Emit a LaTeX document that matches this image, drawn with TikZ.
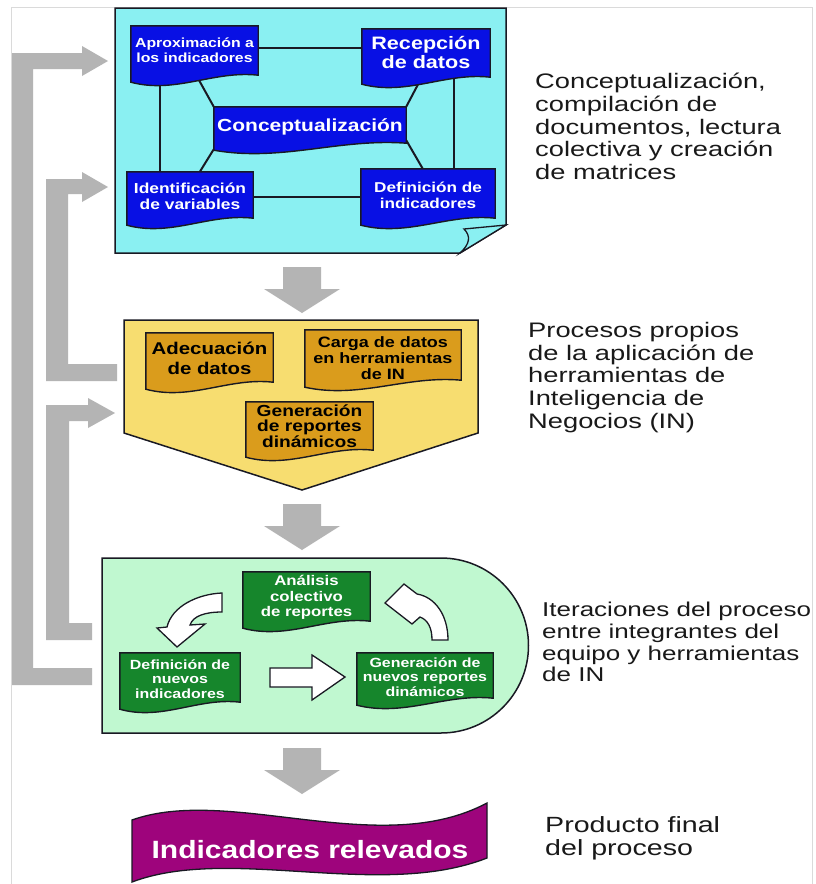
\documentclass[tikz,border=0pt]{standalone}
\usepackage{fontspec}
\setmainfont{Liberation Sans}
\newfontfamily\sidefont[FakeStretch=1.3]{Liberation Sans}
\newfontfamily\boxfont[FakeStretch=1.2]{Liberation Sans}
\usetikzlibrary{calc}
\pgfdeclarelayer{back}
\pgfdeclarelayer{lines}
\pgfdeclarelayer{mid}
\pgfsetlayers{back,lines,mid,main}

\definecolor{cyanp}{RGB}{138,240,242}
\definecolor{blueb}{RGB}{8,16,228}
\definecolor{yellp}{RGB}{247,221,112}
\definecolor{orgb}{RGB}{218,156,28}
\definecolor{grnp}{RGB}{192,248,208}
\definecolor{grnb}{RGB}{22,134,44}
\definecolor{purp}{RGB}{158,4,124}
\definecolor{agray}{RGB}{180,180,180}
\definecolor{fgray}{RGB}{218,218,218}
\definecolor{edge}{RGB}{25,25,35}

% document shape with wavy bottom drawn behind node #1
\newcommand\wavebox[3]{%
  \begin{pgfonlayer}{mid}
  \filldraw[fill=#2, draw=edge, line width=1.4pt]
    (#1.north west) -- (#1.north east) -- ($(#1.south east)+(0,{#3-7})$)
    .. controls ($(#1.south west)!0.65!(#1.south east)+(0,{#3-12})$)
       and ($(#1.south west)!0.35!(#1.south east)+(0,{#3+12})$) ..
    ($(#1.south west)+(0,#3)$) -- cycle;
  \end{pgfonlayer}}

\newcommand\grayarrow[2]{%
  \fill[agray] ({#1-19},#2) -- ({#1+19},#2) -- ({#1+19},{#2+22}) -- ({#1+38},{#2+22})
    -- (#1,{#2+46}) -- ({#1-38},{#2+22}) -- ({#1-19},{#2+22}) -- cycle;}

\begin{document}
\begin{tikzpicture}[x=1pt,y=-1pt,
  doc/.style={rectangle, inner sep=0pt, align=center},
  fs/.style 2 args={font=\boxfont\bfseries\fontsize{#1}{#2}\selectfont},
  rt/.style 2 args={font=\sidefont\fontsize{#1}{#2}\selectfont, anchor=north west, align=left, inner sep=0pt, text=black!90},
  panel/.style={draw=edge, line width=1.5pt},
  conn/.style={draw=edge, line width=2pt},
  oarrow/.style={fill=white, draw=edge, line width=1.3pt, line join=miter}]

\useasboundingbox (0,0) rectangle (816,884);

\begin{pgfonlayer}{back}
  \fill[white] (0,0) rectangle (816,884);
  \draw[fgray, line width=1pt] (11,884) -- (11,7) -- (812,7) -- (812,884);
  % panels
  \filldraw[panel, fill=cyanp] (115,8) -- (506,8) -- (506,225) -- (460,253) -- (115,253) -- cycle;
  \filldraw[panel, fill=cyanp, line width=1.3pt] (506,225) -- (464,229) .. controls (471,236) and (470,244) .. (460,253) -- cycle;
  \filldraw[panel, fill=yellp] (124,320) -- (478,320) -- (478,433) -- (302,490) -- (124,433) -- cycle;
  \filldraw[panel, fill=grnp] (102,558) -- (441,558) arc[start angle=-90, end angle=90, radius=87.5] -- (102,733) -- cycle;
  % down arrows
  \grayarrow{302}{267}
  \grayarrow{302}{504}
  \grayarrow{302}{748}
  % feedback arrows
  \fill[agray] (12,685) -- (92,685) -- (92,668) -- (33,668) -- (33,69) -- (82,69) -- (82,76) -- (108,61) -- (82,46) -- (82,53) -- (12,53) -- cycle;
  \fill[agray] (46,381) -- (117,381) -- (117,364) -- (68,364) -- (68,194) -- (82,194) -- (82,202) -- (108,187) -- (82,172) -- (82,179) -- (46,179) -- cycle;
  \fill[agray] (46,640) -- (92,640) -- (92,623) -- (69,623) -- (69,421) -- (88,421) -- (88,428) -- (115,413) -- (88,398) -- (88,405) -- (46,405) -- cycle;
  % final banner
  \filldraw[draw=edge, line width=1.3pt, fill=purp] (132,820) .. controls (230,785) and (380,860) .. (487,803) -- (487,858) .. controls (380,900) and (230,845) .. (132,882) -- cycle;
\end{pgfonlayer}

% ---- top panel boxes
\node[doc, minimum width=127, minimum height=48, fs={13.2}{15}, text=white] (apx) at (194.5,50) {Aproximación a\\los indicadores};
\wavebox{apx}{blueb}{8}
\node[doc, minimum width=128, minimum height=46, fs={18}{19}, text=white] (rec) at (426,52) {Recepción\\de datos};
\wavebox{rec}{blueb}{9}
\node[doc, minimum width=192, minimum height=40, fs={17.5}{19}, text=white] (con) at (310,127) {Conceptualización};
\wavebox{con}{blueb}{3}
\node[doc, minimum width=126, minimum height=48, fs={14.5}{16}, text=white] (idv) at (190,196) {Identificación\\de variables};
\wavebox{idv}{blueb}{5}
\node[doc, minimum width=134, minimum height=52, fs={14.3}{16}, text=white] (dfi) at (428,195) {Definición de\\indicadores};
\wavebox{dfi}{blueb}{4}

\begin{pgfonlayer}{lines}
  \draw[conn] ($(apx.center)+(0,-2)$) -- ($(rec.center |- apx.center)+(0,-2)$);
  \draw[conn] ($(idv.center)+(0,1)$) -- ($(dfi.center |- idv.center)+(0,1)$);
  \draw[conn] ($(apx.center)+(-34.5,0)$) -- ($(apx.center |- idv.center)+(-34.5,0)$);
  \draw[conn] ($(rec.center)+(28,0)$) -- ($(rec.center |- dfi.center)+(28,0)$);
  \draw[conn] (con.north west) -- ($(apx.south west)+(66,2)$);
  \draw[conn] (con.north east) -- ($(rec.south west)+(60,2)$);
  \draw[conn] ($(con.south west)+(0,2)$) -- ($(idv.north west)+(73,0)$);
  \draw[conn] ($(con.south east)+(0,-7)$) -- ($(dfi.north west)+(62,0)$);
\end{pgfonlayer}

% ---- middle panel boxes
\node[doc, minimum width=127, minimum height=51, fs={17}{20}, text=black] (ade) at (209.5,358.5) {Adecuación\\de datos};
\wavebox{ade}{orgb}{5}
\node[doc, minimum width=156, minimum height=56, fs={15}{16}, text=black] (car) at (383,358) {Carga de datos\\en herramientas\\de IN};
\wavebox{car}{orgb}{1}
\node[doc, minimum width=127, minimum height=48, fs={16}{14.8}, text=black] (gen) at (309.5,426) {Generación\\de reportes\\dinámicos};
\wavebox{gen}{orgb}{7}

% ---- bottom panel boxes
\node[doc, minimum width=127, minimum height=51, fs={14}{15.5}, text=white] (ana) at (306.5,597.5) {Análisis\\colectivo\\de reportes};
\wavebox{ana}{grnb}{5}
\node[doc, minimum width=120, minimum height=52, fs={13.3}{14.2}, text=white] (dni) at (180,679) {Definición de\\nuevos\\indicadores};
\wavebox{dni}{grnb}{4}
\node[doc, minimum width=136, minimum height=48, fs={13.3}{14.2}, text=white] (gnr) at (425,677) {Generación de\\nuevos reportes\\dinámicos};
\wavebox{gnr}{grnb}{4}

% outline arrows
\filldraw[oarrow] (222,593) .. controls (198,594) and (172,606) .. (167,627) -- (157,628) -- (177,647) -- (205,624) -- (190,625) .. controls (193,616) and (205,612) .. (222,612) -- cycle;
\filldraw[oarrow] (432,640) -- (448,640) .. controls (448,615) and (435,597) .. (417,594) -- (404,584) -- (385,603) -- (412,624) -- (420,617) .. controls (428,620) and (432,628) .. (432,640) -- cycle;
\filldraw[oarrow] (270,668) -- (312,668) -- (312,655) -- (345,677) -- (312,700) -- (312,687) -- (270,687) -- cycle;

% final banner text
\node[font=\boxfont\bfseries\fontsize{25}{28}\selectfont, text=white, inner sep=0pt] (ind) at (310,850) {Indicadores relevados};

% ---- side texts
\node[rt={21}{22.75}] (t1) at (535,73) {Conceptualización,\\compilación de\\documentos, lectura\\colectiva y creación\\de matrices};
\node[rt={21}{22.75}] (t2) at (528,322) {Procesos propios\\de la aplicación de\\herramientas de\\Inteligencia de\\Negocios (IN)};
\node[rt={20}{21.7}] (t3) at (542,602) {Iteraciones del proceso\\entre integrantes del\\equipo y herramientas\\de IN};
\node[rt={22}{23}] (t4) at (545,816) {Producto final\\del proceso};

\end{tikzpicture}
\end{document}
